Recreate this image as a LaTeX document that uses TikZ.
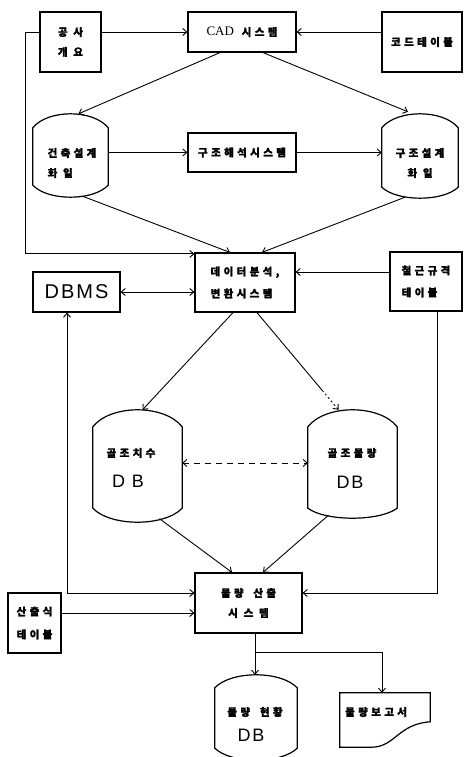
\documentclass[tikz,border=0pt]{standalone}
\usepackage{fontspec}
\setmainfont{Liberation Serif}
\newfontfamily\kr[LetterSpace=32, BoldFeatures={FakeBold=1.5}]{Noto Sans CJK KR}
\newfontfamily\dbfont[LetterSpace=10]{Liberation Sans}
\usetikzlibrary{arrows.meta,calc}
\tikzset{
  outl/.style={line width=1.2pt, line join=miter},
  box/.style={draw, outl, rectangle, inner sep=0pt, align=center,
    font=\kr\bfseries\fontsize{10.5}{20}\selectfont},
  cylbody/.style={rectangle, inner sep=0pt},
  lbl/.style={inner sep=0pt, align=center, font=\kr\bfseries\fontsize{10.5}{20}\selectfont},
  dblbl/.style={inner sep=0pt, font=\dbfont\fontsize{18}{20}\selectfont},
  conn/.style={line width=0.9pt, -{Straight Barb[length=4pt,width=7pt]}},
  dconn/.style={line width=0.9pt, {Straight Barb[length=4pt,width=7pt]}-{Straight Barb[length=4pt,width=7pt]}},
}
\newcommand\cylout[3]{%
  \coordinate (#1-top) at ($(#1.north)+(0,-#2)$);
  \coordinate (#1-bot) at ($(#1.south)+(0,#3)$);
  \draw[outl] (#1.north west)
    .. controls ($(#1.north west)!0.2!(#1.north east)+(0,-#2*4/3)$) and ($(#1.north west)!0.8!(#1.north east)+(0,-#2*4/3)$) .. (#1.north east)
    -- (#1.south east)
    .. controls ($(#1.south west)!0.8!(#1.south east)+(0,#3*4/3)$) and ($(#1.south west)!0.2!(#1.south east)+(0,#3*4/3)$) .. (#1.south west) -- cycle;}
\begin{document}
\begin{tikzpicture}[x=1pt,y=-1pt]
\useasboundingbox (0,0) rectangle (463,757);
% boxes
\node[box, minimum width=61pt, minimum height=60pt] (gongsa) at (70.5,42) {공 사\\개 요};
\node[box, minimum width=108pt, minimum height=40pt] (cad) at (242,32)
  {{\rmfamily\mdseries\fontsize{13}{14}\selectfont CAD}\hspace{2pt} 시스템};
\node[box, minimum width=80pt, minimum height=60pt] (code) at (422,42) {코드테이블};
\node[box, minimum width=108pt, minimum height=39pt] (anal) at (242,152.5) {구조해석시스템};
\node[box, minimum width=100pt, minimum height=59pt, align=left] (data) at (245,282.5) {데이터분석,\\[2pt]변환시스템};
\node[box, minimum width=87pt, minimum height=40pt] (dbms) at (76.5,292) {\dbfont\mdseries\fontsize{20}{22}\selectfont DBMS};
\node[box, minimum width=72pt, minimum height=59pt, align=left] (rebar) at (426,281.5) {철근규격\\[2pt]테이블};
\node[box, minimum width=107pt, minimum height=60pt] (calc) at (248.5,603) {물량\hspace{4pt} 산출\\시 스 템};
\node[box, minimum width=53pt, minimum height=60pt, align=left] (formula) at (34.5,623) {산출식\\[3pt]테이블};
% cylinders
\node[cylbody, minimum width=75pt, minimum height=57pt] (arch) at (70.5,156.5) {};
\cylout{arch}{14}{12}
\node[lbl, align=left] (arch-t) at (72,163) {건축설계\\화 일};
\node[cylbody, minimum width=76pt, minimum height=59pt] (struct) at (420,157.5) {};
\cylout{struct}{14}{11}
\node[lbl] (struct-t) at (420,163) {구조설계\\화 일};
\node[cylbody, minimum width=89pt, minimum height=81pt] (frdim) at (137.5,467.5) {};
\cylout{frdim}{17}{14}
\node[lbl] (frdim-t) at (131,453) {골조치수};
\node[dblbl] (frdim-db) at (128,481) {D B};
\node[cylbody, minimum width=89pt, minimum height=81pt] (frqty) at (352.5,467.5) {};
\cylout{frqty}{17}{10}
\node[lbl] (frqty-t) at (352,453) {골조물량};
\node[dblbl] (frqty-db) at (350,482) {D\hspace{2pt}B};
\node[cylbody, minimum width=82pt, minimum height=60pt] (qtydb) at (256,718) {};
\cylout{qtydb}{13}{12}
\node[lbl] (qtydb-t) at (255,712) {물량\hspace{4pt} 현황};
\node[dblbl] (qtydb-db) at (251,735) {D\hspace{2pt}B};
% report document
\node[cylbody, minimum width=90pt, minimum height=54pt] (report) at (385,720) {};
\draw[outl] (report.south west) -- (report.north west) -- (report.north east)
  -- ($(report.north east)+(0,29)$) .. controls (398,724) and (395,747) .. ($(report.south west)+(32,0)$) -- cycle;
\node[lbl, anchor=west] (report-t) at (345,712) {물량보고서};
% connectors
\draw[conn] (gongsa.east |- cad.west) -- (cad.west);
\draw[conn] (code.west |- cad.east) -- (cad.east);
\coordinate (loopx) at (25,0);
\coordinate (dataNW) at ([yshift=-1.5pt]data.north west);
\draw[conn] (gongsa.west |- cad.west) -- (loopx |- cad.west) |- (dataNW);
\draw[conn] ([xshift=-22pt]cad.south) -- ([xshift=8pt]arch-top);
\draw[conn] ([xshift=21pt]cad.south) -- ([xshift=-12pt,yshift=2pt]struct-top);
\draw[conn] (arch.east |- anal.west) -- (anal.west);
\draw[conn] (anal.east) -- (struct.west |- anal.east);
\draw[conn] ([xshift=12pt,yshift=1pt]arch-bot) -- ([xshift=-15pt]data.north);
\draw[conn] ([xshift=-15pt,yshift=1pt]struct-bot) -- ([xshift=17pt]data.north);
\draw[dconn] (dbms.east) -- (data.west |- dbms.east);
\coordinate (r1) at ([yshift=9.5pt]rebar.west);
\draw[conn] (r1) -- (data.east |- r1);
\draw[conn] ([xshift=-12pt]data.south) -- ([xshift=5pt]frdim-top);
\coordinate (s4) at ([xshift=12pt]data.south);
\coordinate (e4) at ([xshift=-14pt]frqty-top);
\draw[line width=0.9pt] (s4) -- ($(s4)!0.8!(e4)$);
\draw[conn, dash pattern=on 2pt off 2.5pt] ($(s4)!0.8!(e4)$) -- (e4);
\draw[dconn, dash pattern=on 6pt off 5pt] ([yshift=4.5pt]frdim.east) -- ([yshift=4.5pt]frqty.west);
\draw[conn] ([xshift=22pt,yshift=3.5pt]frdim-bot) -- ([xshift=-16.5pt]calc.north);
\draw[conn] ([xshift=-24pt,yshift=3pt]frqty-bot) -- ([xshift=14.5pt]calc.north);
\coordinate (cl) at ([yshift=10pt]calc.west);
\draw[dconn] ([xshift=-9.5pt]dbms.south) |- (cl);
\draw[conn] ([xshift=11pt]rebar.south) |- ([yshift=10pt]calc.east);
\coordinate (fl) at ([yshift=10pt]formula.east);
\draw[conn] (fl) -- (calc.west |- fl);
\coordinate (cs) at ([xshift=6.5pt]calc.south);
\coordinate (split) at (cs |- 0,652);
\draw[conn] (cs) -- (cs |- qtydb-top);
\draw[conn] (split) -| ([xshift=-3pt]report.north);
\end{tikzpicture}
\end{document}
